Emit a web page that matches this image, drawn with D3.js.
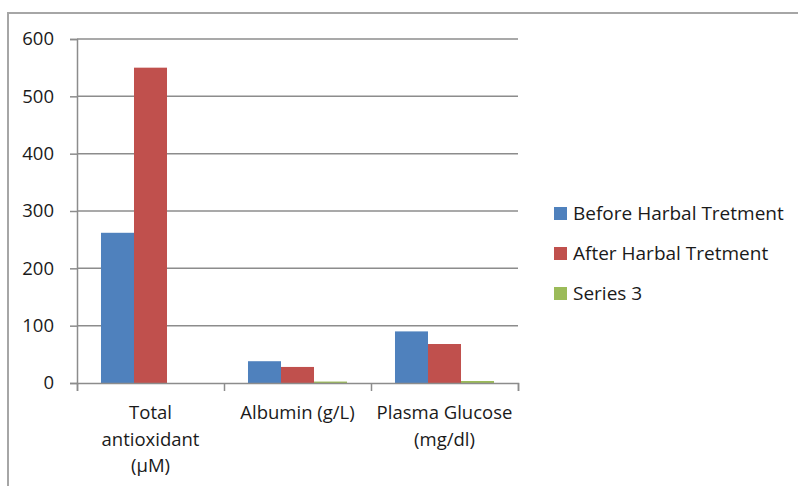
<!DOCTYPE html>
<html>
<head>
<meta charset="utf-8">
<script src="https://cdn.jsdelivr.net/npm/d3@7"></script>
<style>
  html, body { margin: 0; padding: 0; background: #fff; }
  svg { display: block; }
  text { font-family: "Open Sans", "DejaVu Sans", sans-serif; fill: #1a1a1a; }
</style>
</head>
<body>
<svg id="chart" width="798" height="486"></svg>
<script>
// Measurements and groups
const categories = [["Total", "antioxidant", "(µM)"], ["Albumin (g/L)"], ["Plasma Glucose", "(mg/dl)"]];
const seriesNames = ["Before Harbal Tretment", "After Harbal Tretment", "Series 3"];
const beforeValues = [262, 38, 90];
const afterValues = [550, 28, 68];
const series3Values = [0, 2.5, 3.5];
const yTicks = [0, 100, 200, 300, 400, 500, 600];
const colors = ["#4F81BD", "#C0504D", "#9BBB59"];

const seriesValues = [beforeValues, afterValues, series3Values];
const svg = d3.select("#chart");

// Outer chart frame
svg.append("rect")
  .attr("x", 8).attr("y", 13)
  .attr("width", 820).attr("height", 500)
  .attr("fill", "none")
  .attr("stroke", "#a6a6a6")
  .attr("stroke-width", 2);

const plot = { left: 77, right: 518, top: 39, bottom: 383 };

const x = d3.scaleBand()
  .domain(d3.range(categories.length))
  .range([plot.left, plot.right])
  .paddingInner(0).paddingOuter(0);

const inner = d3.scaleBand()
  .domain(d3.range(seriesNames.length))
  .range([0, x.bandwidth()])
  .paddingInner(0)
  .paddingOuter(0.727);

const y = d3.scaleLinear().domain([0, 600]).range([plot.bottom, plot.top]);

// Horizontal gridlines
svg.append("g")
  .selectAll("line")
  .data(yTicks.filter(d => d > 0))
  .join("line")
  .attr("x1", plot.left).attr("x2", plot.right)
  .attr("y1", d => y(d)).attr("y2", d => y(d))
  .attr("stroke", "#8c8c8c").attr("stroke-width", 1.5);

// Bars
seriesValues.forEach((vals, s) => {
  svg.append("g")
    .selectAll("rect")
    .data(vals)
    .join("rect")
    .attr("x", (d, i) => x(i) + inner(s))
    .attr("width", inner.bandwidth())
    .attr("y", d => y(d))
    .attr("height", d => y(0) - y(d))
    .attr("fill", colors[s]);
});

// Y axis
const yAxis = svg.append("g")
  .attr("transform", `translate(${plot.left},0)`)
  .call(d3.axisLeft(y).tickValues(yTicks).tickSize(7).tickPadding(16));
yAxis.select(".domain").attr("stroke", "#8c8c8c").attr("stroke-width", 1.5);
yAxis.selectAll(".tick line").attr("stroke", "#8c8c8c").attr("stroke-width", 1.5);
yAxis.selectAll(".tick text")
  .attr("font-size", 18.5).attr("font-family", "Open Sans, sans-serif").attr("fill", "#1a1a1a");

// X axis baseline and category ticks
const xAxis = svg.append("g")
  .attr("transform", `translate(0,${plot.bottom})`)
  .call(d3.axisBottom(d3.scaleLinear().domain([0, categories.length]).range([plot.left, plot.right]))
    .tickValues(d3.range(categories.length + 1)).tickSize(8).tickFormat(""));
xAxis.select(".domain").attr("stroke", "#8c8c8c").attr("stroke-width", 1.5);
xAxis.selectAll(".tick line").attr("stroke", "#8c8c8c").attr("stroke-width", 1.5);

// Category labels
const labelGroups = svg.append("g")
  .selectAll("text")
  .data(categories)
  .join("text")
  .attr("text-anchor", "middle")
  .attr("font-size", 18.5);
labelGroups.selectAll("tspan")
  .data((d, i) => d.map(line => ({ line, i })))
  .join("tspan")
  .attr("x", d => x(d.i) + x.bandwidth() / 2)
  .attr("y", (d, j) => 419 + j * 26.5)
  .text(d => d.line);

// Legend
const legend = svg.append("g")
  .selectAll("g")
  .data(seriesNames)
  .join("g")
  .attr("transform", (d, i) => `translate(554,${213 + i * 40})`);
legend.append("rect")
  .attr("x", 0).attr("y", -6)
  .attr("width", 13).attr("height", 13)
  .attr("fill", (d, i) => colors[i]);
legend.append("text")
  .attr("x", 19).attr("y", 7)
  .attr("font-size", 19)
  .text(d => d);
</script>
</body>
</html>
